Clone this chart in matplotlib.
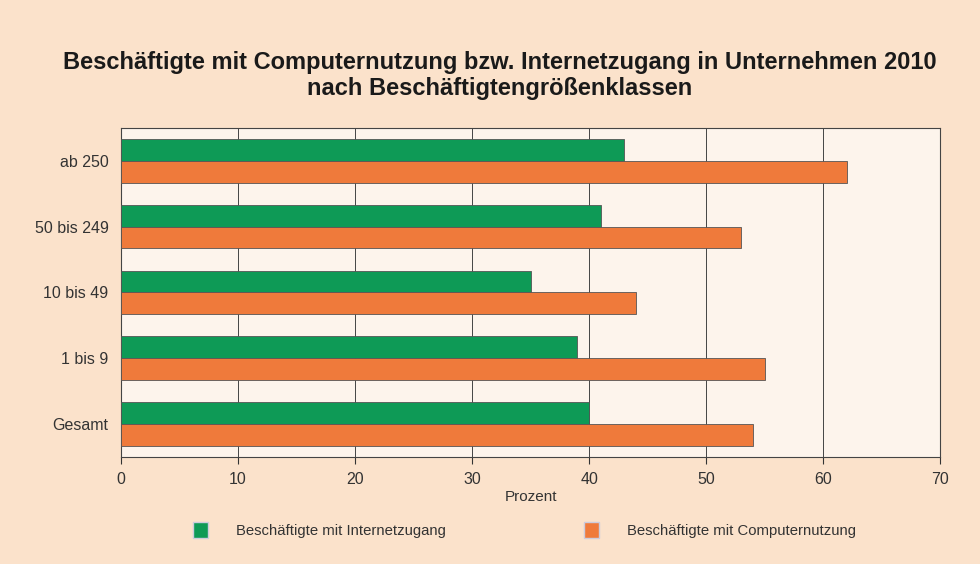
import numpy as np
import matplotlib
matplotlib.use("Agg")
import matplotlib.pyplot as plt
from matplotlib.patches import Patch

plt.rcParams['font.family'] = ['Liberation Sans', 'DejaVu Sans']

categories = ["ab 250", "50 bis 249", "10 bis 49", "1 bis 9", "Gesamt"]
internet = [43, 41, 35, 39, 40]
computer = [62, 53, 44, 55, 54]
series_names = ["Beschäftigte mit Internetzugang", "Beschäftigte mit Computernutzung"]
title = ("Beschäftigte mit Computernutzung bzw. Internetzugang in Unternehmen 2010\n"
         "nach Beschäftigtengrößenklassen")

bg = "#fbe2cb"
green = "#0e9a56"
orange = "#ef7a3b"

fig = plt.figure(figsize=(9.8, 5.64), dpi=100, facecolor=bg)
ax = fig.add_axes([0.1235, 0.19, 0.836, 0.583])
ax.set_facecolor("#fdf4ec")

y = np.arange(len(categories))
h = 0.33
ax.barh(y - h / 2, internet, height=h, color=green, edgecolor="#555555", linewidth=0.6, zorder=3)
ax.barh(y + h / 2, computer, height=h, color=orange, edgecolor="#555555", linewidth=0.6, zorder=3)

ax.set_ylim(len(categories) - 0.5, -0.5)
ax.set_xlim(0, 70)
ax.set_xticks(range(0, 71, 10))
ax.set_yticks(y)
ax.set_yticklabels(categories, fontsize=11.5, color="#333333")
ax.tick_params(axis='y', length=0, pad=9)
ax.tick_params(axis='x', labelsize=11.5, colors="#333333", length=5, direction='out', pad=6)
ax.grid(axis='x', color="#444444", linewidth=0.7, zorder=0)
for s in ax.spines.values():
    s.set_color("#444444")
    s.set_linewidth(0.8)
ax.set_xlabel("Prozent", fontsize=11, color="#333333", labelpad=2)

fig.text(0.51, 0.866, title, ha='center', va='center', fontsize=17,
         fontweight='bold', color="#1a1a1a", linespacing=1.2)

handles = [Patch(facecolor=green, edgecolor="#ccd"), Patch(facecolor=orange, edgecolor="#ccd")]
fig.legend(handles, series_names, loc='center', bbox_to_anchor=(0.535, 0.06), ncol=2,
           frameon=False, fontsize=10.7, handlelength=1.0, handleheight=1.2,
           handletextpad=1.9, columnspacing=9.3, labelcolor="#333333")

fig.savefig("out.png", dpi=100, facecolor=bg)
